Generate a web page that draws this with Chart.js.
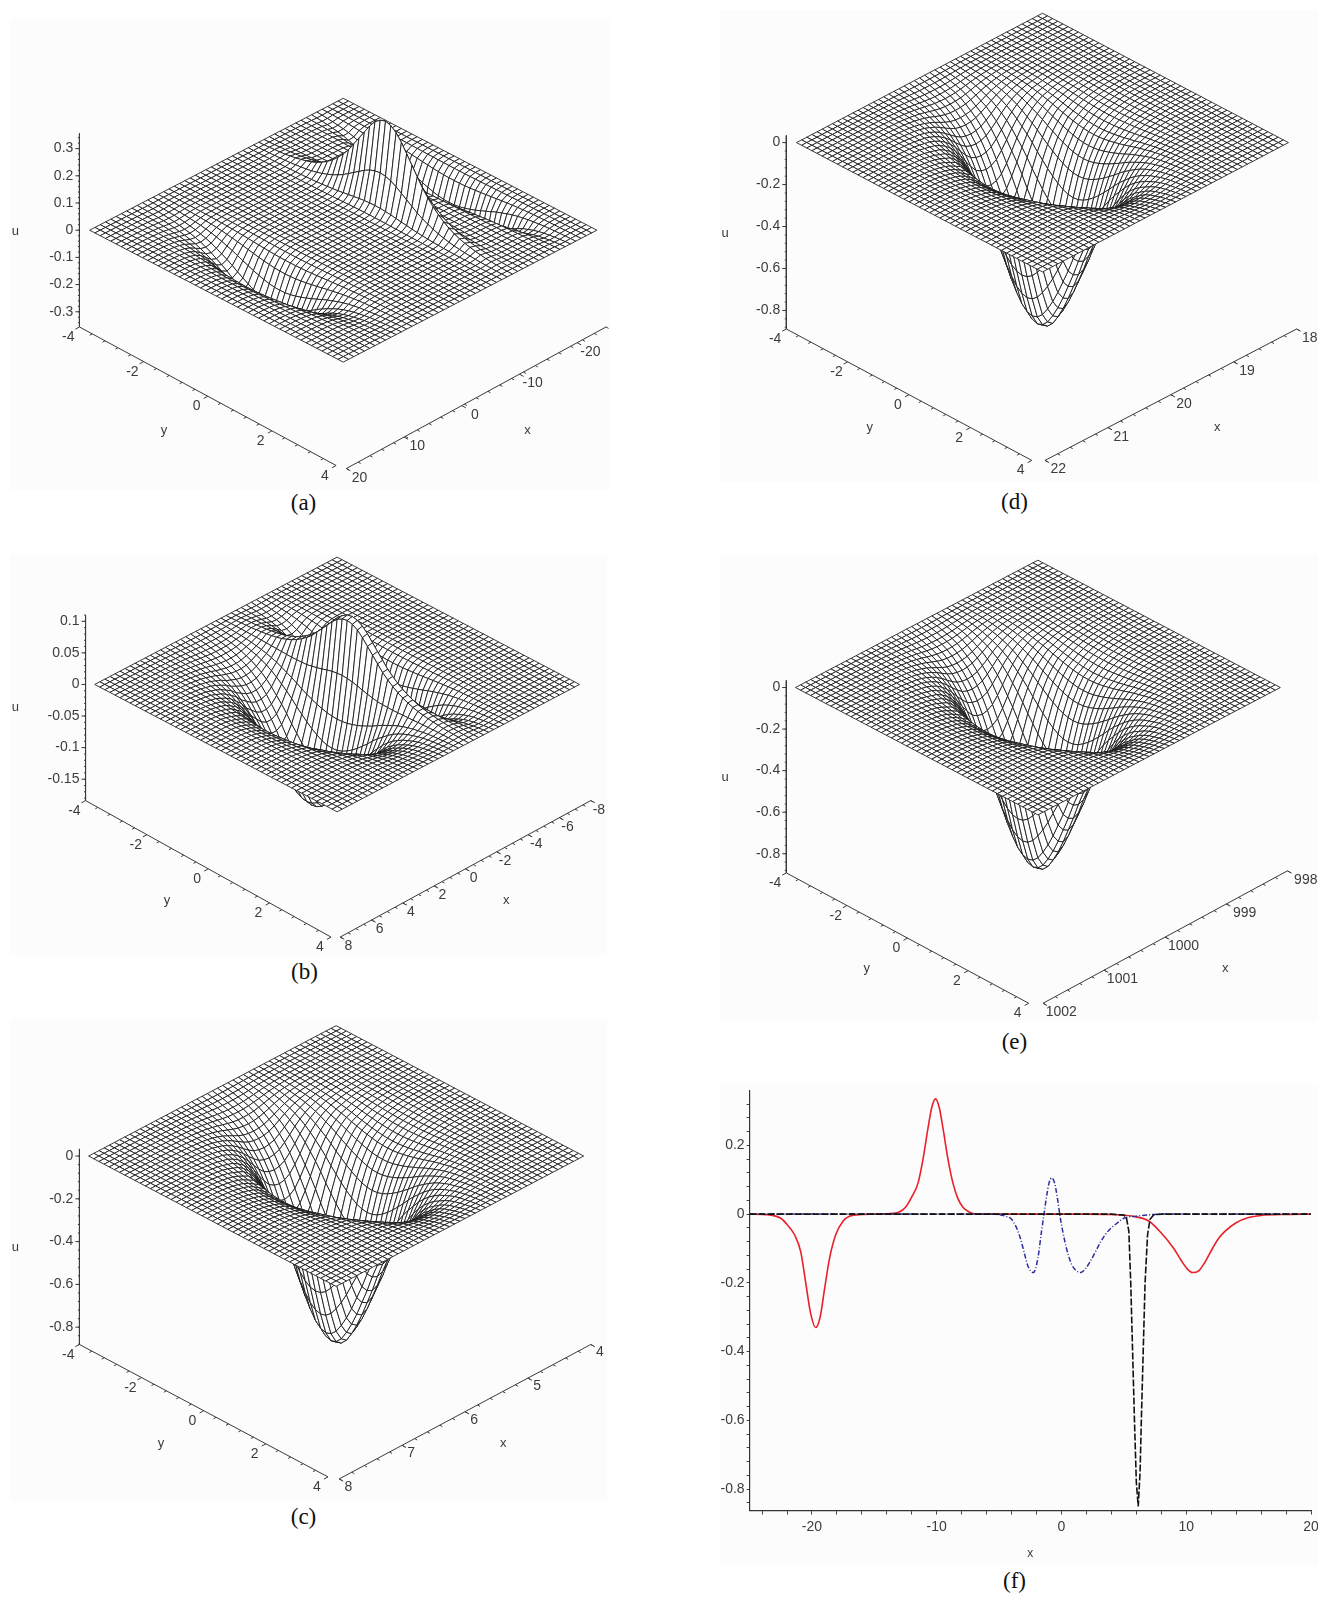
<!DOCTYPE html>
<html>
<head>
<meta charset="utf-8">
<script src="https://cdn.jsdelivr.net/npm/chart.js@4"></script>
<style>
  html, body { margin: 0; padding: 0; background: #fff; }
  #page { position: relative; width: 1318px; height: 1597px; overflow: hidden; }
  canvas { position: absolute; }
  .cap { position: absolute; width: 60px; text-align: center; font: 23px "Liberation Serif", serif; color: #111; }
  .bg { position: absolute; background: #fcfcfc; }
</style>
</head>
<body>
<div id="page"></div>
<script>
// sections read along the surfaces (49 grid lines each way)
// across y: y = -4 .. 4
const yWide = [0,.006,.012,.02,.03,.04,.055,.075,.10,.125,.16,.20,.25,.31,.38,.45,.53,.62,.70,.78,.85,.91,.96,.99,1,.99,.96,.91,.85,.78,.70,.62,.53,.45,.38,.31,.25,.20,.16,.125,.10,.075,.055,.04,.03,.02,.012,.006,0];
const yRidge = [0,.002,.005,.01,.015,.02,.03,.04,.055,.07,.09,.115,.15,.19,.24,.30,.37,.45,.55,.65,.75,.85,.93,.98,1,.98,.93,.85,.75,.65,.55,.45,.37,.30,.24,.19,.15,.115,.09,.07,.055,.04,.03,.02,.015,.01,.005,.002,0];

// across x, panel a: x = -25 .. 20
const aDentBack = [0,0,-.005,-.03,-.10,-.28,-.31,-.13,-.03,-.006,0,0,0,0,0,0,0,0,0,0,0,0,0,0,0,0,0,0,0,0,0,0,0,0,0,0,0,0,0,0,0,0,0,0,0,0,0,0,0];
const aRidge = [0,0,0,0,0,0,0,0,0,0,0,0,.002,.01,.06,.23,.32,.14,.03,.005,.001,0,0,0,0,0,0,0,0,0,0,0,0,0,0,0,0,0,0,0,0,0,0,0,0,0,0,0,0];
const aDentFront = [0,0,0,0,0,0,0,0,0,0,0,0,0,0,0,0,0,0,0,0,0,0,0,0,0,0,0,0,0,0,0,0,-.002,-.008,-.02,-.05,-.10,-.15,-.17,-.15,-.105,-.06,-.03,-.015,-.006,-.002,0,0,0];

// across x, panel b: x = -8 .. 8
const bDentBack = [0,0,0,0,0,0,0,0,0,0,0,-.001,-.004,-.012,-.035,-.08,-.14,-.17,-.15,-.07,-.02,-.005,0,0,0,0,0,0,0,0,0,0,0,0,0,0,0,0,0,0,0,0,0,0,0,0,0,0,0];
const bRidge = [0,0,0,0,0,0,0,0,0,0,0,0,0,0,0,0,0,0,0,.01,.05,.105,.105,.05,.015,.003,0,0,0,0,0,0,0,0,0,0,0,0,0,0,0,0,0,0,0,0,0,0,0];
const bDentFront = [0,0,0,0,0,0,0,0,0,0,0,0,0,0,0,0,0,0,0,0,0,-.005,-.012,-.04,-.07,-.10,-.135,-.16,-.17,-.17,-.16,-.14,-.12,-.09,-.07,-.05,-.035,-.025,-.015,-.01,-.006,-.003,-.001,0,0,0,0,0,0];

// across x, panels c d e: 4 units centred on the dip
const cDip = [0,0,0,-.001,-.002,-.003,-.005,-.008,-.012,-.018,-.025,-.035,-.05,-.07,-.09,-.13,-.18,-.25,-.34,-.45,-.58,-.70,-.80,-.85,-.87,-.85,-.80,-.70,-.58,-.45,-.34,-.25,-.18,-.13,-.09,-.07,-.05,-.035,-.025,-.018,-.012,-.008,-.005,-.003,-.002,-.001,0,0,0];

// tick labels
const aUTicks = [.3,.2,.1,0,-.1,-.2,-.3];
const bUTicks = [.1,.05,0,-.05,-.1,-.15];
const cUTicks = [0,-.2,-.4,-.6,-.8];
const yAxisTicks = [-4,-2,0,2,4];
const aXTicks = [20,10,0,-10,-20];
const bXTicks = [8,6,4,2,0,-2,-4,-6,-8];
const cXTicks = [8,7,6,5,4];
const dXTicks = [22,21,20,19,18];
const eXTicks = [1002,1001,1000,999,998];

// panel f: curves along x
const redX = [-25,-23.5,-22.5,-22,-21.4,-20.9,-20.5,-20.1,-19.7,-19.35,-19,-18.6,-18.1,-17.5,-17,-16,-15,-13.5,-13,-12.5,-12,-11.5,-11.1,-10.7,-10.4,-10.1,-9.8,-9.5,-9.1,-8.7,-8.3,-7.9,-7.4,-7,-6,2,4,5,6,7,8,9,9.6,10.1,10.5,11,11.5,12.1,12.6,13.1,14,15,16,18,20];
const redU = [0,-.002,-.012,-.03,-.06,-.11,-.2,-.29,-.33,-.3,-.22,-.13,-.06,-.02,-.006,-.001,0,.002,.006,.02,.05,.09,.16,.25,.31,.335,.31,.25,.16,.09,.045,.02,.006,.001,0,0,-.001,-.003,-.008,-.02,-.055,-.1,-.135,-.16,-.17,-.165,-.14,-.1,-.07,-.05,-.025,-.01,-.004,-.001,0];
const blueX = [-25,-6,-5,-4.5,-4,-3.6,-3.3,-3,-2.7,-2.25,-1.9,-1.6,-1.4,-1.2,-1,-.8,-.55,-.3,-.1,.1,.4,.8,1.2,1.55,2,2.5,3,3.5,4,4.5,5,6,7,8,20];
const blueU = [0,0,-.002,-.006,-.015,-.04,-.07,-.11,-.15,-.17,-.13,-.05,0,.05,.09,.105,.09,.04,-.01,-.05,-.1,-.145,-.165,-.17,-.155,-.125,-.09,-.06,-.04,-.025,-.012,-.006,-.002,0,0];
const blackX = [-25,4,5,5.2,5.4,5.55,5.7,5.85,6,6.15,6.3,6.4,6.55,6.7,6.9,7.1,7.4,8,20];
const blackU = [0,0,-.003,-.01,-.05,-.2,-.4,-.6,-.78,-.85,-.75,-.6,-.4,-.2,-.06,-.015,-.002,0,0];
const fXTicks = [-24,-22,-20,-18,-16,-14,-12,-10,-8,-6,-4,-2,0,2,4,6,8,10,12,14,16,18,20];
const fUTicks = [.32,.28,.24,.2,.16,.12,.08,.04,0,-.04,-.08,-.12,-.16,-.2,-.24,-.28,-.32,-.36,-.4,-.44,-.48,-.52,-.56,-.6,-.64,-.68,-.72,-.76,-.8,-.84];

const K = 1318 / 1294; // reference was measured on the shrunk copy
const GRID = 49;
const page = document.getElementById('page');
const FONT = '14px "Liberation Sans", Arial, sans-serif';
const TEXT = '#3c3c3c';

// painter's order: each quad white, then outlined
const meshPlugin = {
  id: 'meshPlugin',
  beforeDatasetDraw(chart, args) {
    const ds = chart.data.datasets[args.index];
    if (!ds.isMesh) return;
    const ctx = chart.ctx, pts = args.meta.data;
    ctx.save();
    ctx.fillStyle = '#fff';
    ctx.strokeStyle = '#161616';
    ctx.lineWidth = 0.85;
    for (let k = 0; k < pts.length; k += 4) {
      ctx.beginPath();
      ctx.moveTo(pts[k].x, pts[k].y);
      ctx.lineTo(pts[k + 1].x, pts[k + 1].y);
      ctx.lineTo(pts[k + 2].x, pts[k + 2].y);
      ctx.lineTo(pts[k + 3].x, pts[k + 3].y);
      ctx.closePath();
      ctx.fill();
      ctx.stroke();
    }
    ctx.restore();
  }
};

const textPlugin = {
  id: 'textPlugin',
  afterDraw(chart) {
    const items = chart.options.plugins.textPlugin.items || [];
    const ctx = chart.ctx;
    ctx.save();
    ctx.fillStyle = TEXT;
    ctx.textBaseline = 'middle';
    items.forEach(t => {
      ctx.font = t.font || FONT;
      ctx.textAlign = t.align || 'center';
      ctx.fillText(t.text, chart.scales.x.getPixelForValue(t.x), chart.scales.y.getPixelForValue(t.y));
    });
    ctx.restore();
  }
};

function addBack(l, t, w, h) {
  const d = document.createElement('div');
  d.className = 'bg';
  d.style.cssText = `left:${l}px;top:${t}px;width:${w}px;height:${h}px`;
  page.appendChild(d);
}

function addCanvas(l, t, w, h) {
  const c = document.createElement('canvas');
  c.width = w; c.height = h;
  c.style.cssText = `left:${l}px;top:${t}px;width:${w}px;height:${h}px`;
  page.appendChild(c);
  return c;
}

function caption(text, cx, cy) {
  const d = document.createElement('div');
  d.className = 'cap';
  d.textContent = text;
  d.style.left = (cx * K - 30) + 'px';
  d.style.top = (cy * K - 14) + 'px';
  page.appendChild(d);
}

function surfacePanel(c) {
  const box = c.box;
  addBack(box[0], box[1], box[2], box[3]);
  const canvas = addCanvas(box[0], box[1], box[2], box[3]);

  // heights on the grid, from the sections above
  const height = (i, j) => c.terms.reduce((s, t) => s + t[0][i] * t[1][j], 0);
  const W = (c.right - c.left) / 2 * K, H = (c.front - c.back) / 2 * K;
  const cx = (c.left + c.right) / 2 * K, cy = c.zero * K;
  const vertex = (i, j) => {
    const q = -1 + 2 * i / (GRID - 1), p = -1 + 2 * j / (GRID - 1);
    return { x: cx + (p - q) * W / 2, y: cy + (p + q) * H / 2 - height(i, j) * c.zk * K };
  };
  const mesh = [];
  for (let i = 0; i < GRID - 1; i++) {
    for (let j = 0; j < GRID - 1; j++) {
      mesh.push(vertex(i, j), vertex(i, j + 1), vertex(i + 1, j + 1), vertex(i + 1, j));
    }
  }

  const texts = [];
  const axis = [];
  const gap = { x: NaN, y: NaN };
  const P = (a, b) => ({ x: a * K, y: b * K });

  // u axis
  const ux = c.uAxisX;
  const uy = v => c.zero - v * c.zk;
  axis.push(P(ux, c.uTop), P(ux, c.uBottom), gap);
  for (const v of c.uMinor) axis.push(P(ux - 1.5, uy(v)), P(ux, uy(v)), gap);
  c.uTicks.forEach(v => {
    axis.push(P(ux - 4, uy(v)), P(ux, uy(v)), gap);
    texts.push({ text: String(v), x: (ux - 6) * K, y: uy(v) * K, align: 'right' });
  });
  texts.push({ text: 'u', x: c.uLabel[0] * K, y: c.uLabel[1] * K, font: '13px "Liberation Sans", sans-serif' });

  // y axis
  const along = (a, b, t) => [a[0] + (b[0] - a[0]) * t, a[1] + (b[1] - a[1]) * t];
  axis.push(P(...c.yAxis[0]), P(...c.yAxis[1]), gap);
  for (let n = 0; n <= 20; n++) {
    const pt = along(c.yAxis[0], c.yAxis[1], n / 20);
    const len = n % 5 === 0 ? 4 : 2.5;
    axis.push(P(pt[0], pt[1]), P(pt[0] - len, pt[1] + len * 0.55), gap);
  }
  yAxisTicks.forEach(v => {
    const pt = along(c.yAxis[0], c.yAxis[1], (v + 4) / 8);
    texts.push({ text: String(v), x: (pt[0] - 11) * K, y: (pt[1] + 10) * K });
  });
  texts.push({ text: 'y', x: c.yLabel[0] * K, y: c.yLabel[1] * K, font: '13px "Liberation Sans", sans-serif' });

  // x axis
  axis.push(P(...c.xAxis[0]), P(...c.xAxis[1]), gap);
  const x0 = c.xTicks[0], xSpan = c.xEnd - x0;
  for (let n = 0; n <= c.xMinor; n++) {
    const pt = along(c.xAxis[0], c.xAxis[1], n / c.xMinor);
    axis.push(P(pt[0], pt[1]), P(pt[0] + 2.5, pt[1] + 1.4), gap);
  }
  c.xTicks.forEach(v => {
    const pt = along(c.xAxis[0], c.xAxis[1], (v - x0) / xSpan);
    axis.push(P(pt[0], pt[1]), P(pt[0] + 4, pt[1] + 2.2), gap);
    texts.push({ text: String(v), x: (pt[0] + c.xOff[0]) * K, y: (pt[1] + c.xOff[1]) * K });
  });
  texts.push({ text: 'x', x: c.xLabel[0] * K, y: c.xLabel[1] * K, font: '13px "Liberation Sans", sans-serif' });

  new Chart(canvas, {
    type: 'scatter',
    plugins: [meshPlugin, textPlugin],
    data: {
      datasets: [
        { isMesh: true, data: mesh, showLine: false, pointRadius: 0 },
        { data: axis, showLine: true, spanGaps: false, pointRadius: 0, borderColor: '#3a3a3a', borderWidth: 1 }
      ]
    },
    options: {
      responsive: false,
      animation: false,
      events: [],
      layout: { padding: 0 },
      scales: {
        x: { type: 'linear', display: false, min: box[0], max: box[0] + box[2] },
        y: { type: 'linear', display: false, min: box[1], max: box[1] + box[3], reverse: true }
      },
      plugins: { legend: { display: false }, tooltip: { enabled: false }, textPlugin: { items: texts } }
    }
  });
}

function minorList(from, to, step) {
  const out = [];
  for (let n = 0; n <= Math.round((from - to) / step); n++) out.push(from - n * step);
  return out;
}

surfacePanel({
  box: [10, 20, 600, 470], left: 88, right: 586, back: 96, front: 355, zero: 226, zk: 267,
  terms: [[aDentBack, yWide], [aRidge, yRidge], [aDentFront, yWide]],
  uAxisX: 78, uTop: 131, uBottom: 321, uTicks: aUTicks, uMinor: minorList(.34, -.34, .02), uLabel: [15, 227],
  yAxis: [[78, 321], [330, 457]], yLabel: [161, 423],
  xAxis: [[340, 460], [595, 321]], xTicks: aXTicks, xEnd: -25, xMinor: 22, xOff: [13, 9], xLabel: [518, 423]
});
surfacePanel({
  box: [10, 555, 597, 400], left: 93, right: 569, back: 547, front: 797, zero: 672, zk: 620,
  terms: [[bDentBack, yWide], [bRidge, yRidge], [bDentFront, yWide]],
  uAxisX: 84, uTop: 604, uBottom: 786, uTicks: bUTicks, uMinor: minorList(.11, -.18, .01), uLabel: [15, 695],
  yAxis: [[84, 786], [325, 920]], yLabel: [164, 884],
  xAxis: [[334, 920], [580, 786]], xTicks: bXTicks, xEnd: -8, xMinor: 32, xOff: [8, 9], xLabel: [497, 884]
});
surfacePanel({
  box: [10, 1020, 597, 480], left: 87, right: 573, back: 1007, front: 1263, zero: 1135, zk: 210,
  terms: [[cDip, yWide]],
  uAxisX: 78, uTop: 1128, uBottom: 1320, uTicks: cUTicks, uMinor: minorList(0, -.88, .04), uLabel: [15, 1225],
  yAxis: [[78, 1320], [322, 1450]], yLabel: [158, 1417],
  xAxis: [[333, 1452], [580, 1320]], xTicks: cXTicks, xEnd: 4, xMinor: 20, xOff: [9, 8], xLabel: [494, 1417]
});
surfacePanel({
  box: [720, 10, 598, 472], left: 782, right: 1265, back: 13, front: 267, zero: 140, zk: 206,
  terms: [[cDip, yWide]],
  uAxisX: 772, uTop: 133, uBottom: 323, uTicks: cUTicks, uMinor: minorList(0, -.88, .04), uLabel: [712, 229],
  yAxis: [[772, 323], [1013, 452]], yLabel: [854, 420],
  xAxis: [[1026, 452], [1273, 323]], xTicks: dXTicks, xEnd: 18, xMinor: 20, xOff: [13, 9], xLabel: [1195, 420]
});
surfacePanel({
  box: [720, 555, 598, 465], left: 781, right: 1257, back: 550, front: 800, zero: 675, zk: 204,
  terms: [[cDip, yWide]],
  uAxisX: 772, uTop: 668, uBottom: 857, uTicks: cUTicks, uMinor: minorList(0, -.88, .04), uLabel: [712, 763],
  yAxis: [[772, 857], [1010, 985]], yLabel: [851, 951],
  xAxis: [[1024, 985], [1264, 855]], xTicks: eXTicks, xEnd: 998, xMinor: 20, xOff: [18, 9], xLabel: [1203, 951]
});

// panel f, a plain chart with real axes
const fLeft = 705, fTop = 1085;
addBack(720, 1085, 598, 480);
const fCanvas = addCanvas(fLeft, fTop, 613, 480);
const pairs = (xs, us) => xs.map((v, i) => ({ x: v, y: us[i] }));
new Chart(fCanvas, {
  type: 'scatter',
  data: {
    datasets: [
      { data: pairs(blackX, blackU), showLine: true, pointRadius: 0, borderColor: '#111', borderWidth: 1.6, borderDash: [7, 2] },
      { data: pairs(blueX, blueU), showLine: true, pointRadius: 0, borderColor: '#2b2f9e', borderWidth: 1.5, borderDash: [5, 2, 1, 2], cubicInterpolationMode: 'monotone' },
      { data: pairs(redX, redU), showLine: true, pointRadius: 0, borderColor: '#e8202a', borderWidth: 1.6, cubicInterpolationMode: 'monotone' }
    ]
  },
  options: {
    responsive: false,
    animation: false,
    events: [],
    layout: { padding: { top: 6, right: 7, left: 0, bottom: 0 } },
    scales: {
      x: {
        type: 'linear', min: -25, max: 20,
        afterBuildTicks: s => { s.ticks = fXTicks.map(v => ({ value: v })); },
        afterFit: s => { s.height = 1085 + 480 - 1510.5; s.paddingLeft = 0; s.paddingRight = 0; },
        grid: { drawOnChartArea: false, tickLength: 4, color: '#444', tickColor: '#444' },
        border: { color: '#333', width: 1.2 },
        ticks: {
          autoSkip: false, maxRotation: 0, color: TEXT, font: { family: '"Liberation Sans", sans-serif', size: 14 }, padding: 4,
          callback: v => (v % 10 === 0 ? String(v) : '')
        },
        title: { display: true, text: 'x', color: TEXT, font: { family: '"Liberation Sans", sans-serif', size: 12 }, padding: { top: 14 } }
      },
      y: {
        type: 'linear', min: -.862, max: .358,
        afterBuildTicks: s => { s.ticks = fUTicks.map(v => ({ value: v })); },
        afterFit: s => { s.width = 749.6 - fLeft; s.paddingTop = 0; s.paddingBottom = 0; },
        grid: { drawOnChartArea: false, tickLength: 3, color: '#444', tickColor: '#444' },
        border: { color: '#333', width: 1.2 },
        ticks: {
          autoSkip: false, color: TEXT, font: { family: '"Liberation Sans", sans-serif', size: 14 }, padding: 2,
          callback: v => (Math.abs(v * 5 - Math.round(v * 5)) < 1e-6 ? String(Math.round(v * 5) / 5) : '')
        }
      }
    },
    plugins: { legend: { display: false }, tooltip: { enabled: false } }
  }
});

caption('(a)', 298, 495);
caption('(b)', 299, 955);
caption('(c)', 298, 1490);
caption('(d)', 996, 494);
caption('(e)', 996, 1024);
caption('(f)', 996, 1553);
</script>
</body>
</html>
